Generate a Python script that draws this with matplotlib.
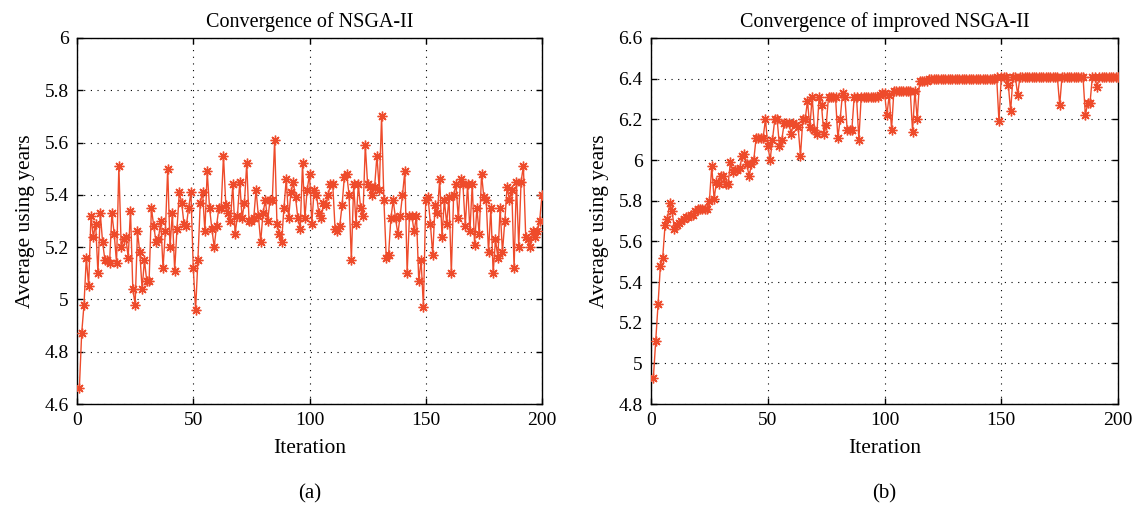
import matplotlib
matplotlib.use("Agg")
import matplotlib.pyplot as plt
import numpy as np

plt.rcParams['font.family'] = ['Liberation Serif', 'DejaVu Serif']

# --- data ----------------------------------------------------------------
iterations = np.arange(1, 201)

nsga2 = [
    4.66, 4.87, 4.98, 5.16, 5.05, 5.32, 5.24, 5.29, 5.10, 5.33,
    5.22, 5.15, 5.15, 5.14, 5.33, 5.25, 5.14, 5.51, 5.20, 5.23,
    5.24, 5.16, 5.34, 5.04, 4.98, 5.26, 5.18, 5.04, 5.15, 5.07,
    5.07, 5.35, 5.28, 5.22, 5.23, 5.30, 5.12, 5.26, 5.50, 5.20,
    5.33, 5.11, 5.27, 5.41, 5.37, 5.29, 5.28, 5.35, 5.41, 5.12,
    4.96, 5.15, 5.37, 5.41, 5.26, 5.49, 5.35, 5.27, 5.20, 5.28,
    5.35, 5.35, 5.55, 5.36, 5.33, 5.30, 5.44, 5.25, 5.32, 5.45,
    5.31, 5.37, 5.52, 5.30, 5.30, 5.31, 5.42, 5.32, 5.22, 5.33,
    5.38, 5.30, 5.38, 5.38, 5.61, 5.29, 5.25, 5.22, 5.35, 5.46,
    5.31, 5.41, 5.45, 5.39, 5.31, 5.27, 5.52, 5.31, 5.42, 5.48,
    5.29, 5.42, 5.40, 5.33, 5.31, 5.37, 5.36, 5.40, 5.44, 5.44,
    5.27, 5.26, 5.28, 5.36, 5.47, 5.48, 5.40, 5.15, 5.44, 5.29,
    5.44, 5.35, 5.32, 5.59, 5.44, 5.43, 5.40, 5.43, 5.55, 5.42,
    5.70, 5.38, 5.16, 5.17, 5.31, 5.38, 5.31, 5.25, 5.32, 5.40,
    5.49, 5.10, 5.32, 5.32, 5.26, 5.32, 5.07, 5.15, 4.97, 5.38,
    5.39, 5.29, 5.17, 5.36, 5.33, 5.46, 5.24, 5.38, 5.29, 5.39,
    5.10, 5.40, 5.44, 5.31, 5.46, 5.44, 5.28, 5.44, 5.26, 5.44,
    5.21, 5.35, 5.25, 5.48, 5.39, 5.38, 5.18, 5.35, 5.10, 5.23,
    5.16, 5.35, 5.18, 5.30, 5.43, 5.38, 5.42, 5.12, 5.45, 5.20,
    5.45, 5.51, 5.24, 5.23, 5.20, 5.26, 5.24, 5.26, 5.30, 5.40,
]

improved = [
    4.93, 5.11, 5.29, 5.48, 5.52, 5.68, 5.71, 5.79, 5.75, 5.66,
    5.68, 5.69, 5.70, 5.71, 5.72, 5.72, 5.73, 5.73, 5.75, 5.76,
    5.76, 5.76, 5.76, 5.76, 5.80, 5.97, 5.81, 5.89, 5.88, 5.92,
    5.92, 5.88, 5.88, 5.99, 5.94, 5.95, 5.95, 5.96, 6.02, 6.03,
    5.98, 5.92, 5.98, 6.00, 6.11, 6.11, 6.11, 6.11, 6.20, 6.07,
    6.00, 6.10, 6.20, 6.20, 6.07, 6.10, 6.18, 6.18, 6.18, 6.13,
    6.18, 6.17, 6.16, 6.02, 6.20, 6.20, 6.29, 6.16, 6.31, 6.15,
    6.13, 6.31, 6.27, 6.13, 6.17, 6.31, 6.31, 6.31, 6.31, 6.11,
    6.20, 6.33, 6.31, 6.15, 6.15, 6.15, 6.31, 6.31, 6.10, 6.31,
    6.31, 6.31, 6.31, 6.31, 6.31, 6.31, 6.31, 6.32, 6.33, 6.33,
    6.22, 6.32, 6.15, 6.34, 6.34, 6.34, 6.34, 6.34, 6.34, 6.34,
    6.34, 6.14, 6.34, 6.20, 6.39, 6.39, 6.39, 6.39, 6.40, 6.40,
    6.40, 6.40, 6.40, 6.40, 6.40, 6.40, 6.40, 6.40, 6.40, 6.40,
    6.40, 6.40, 6.40, 6.40, 6.40, 6.40, 6.40, 6.40, 6.40, 6.40,
    6.40, 6.40, 6.40, 6.40, 6.40, 6.40, 6.40, 6.41, 6.19, 6.41,
    6.41, 6.41, 6.37, 6.24, 6.41, 6.41, 6.32, 6.41, 6.41, 6.41,
    6.41, 6.41, 6.41, 6.41, 6.41, 6.41, 6.41, 6.41, 6.41, 6.41,
    6.41, 6.41, 6.41, 6.41, 6.27, 6.41, 6.41, 6.41, 6.41, 6.41,
    6.41, 6.41, 6.41, 6.41, 6.41, 6.22, 6.28, 6.28, 6.41, 6.41,
    6.36, 6.41, 6.41, 6.41, 6.41, 6.41, 6.41, 6.41, 6.41, 6.41,
]

panels = [
    ('Convergence of NSGA-II', nsga2, (4.6, 6.0), '(a)'),
    ('Convergence of improved NSGA-II', improved, (4.8, 6.6), '(b)'),
]

line_color = '#ee4b2b'

fig = plt.figure(figsize=(11.36, 5.08), dpi=100)
axes = [fig.add_axes([0.0678, 0.2047, 0.4093, 0.7205]),
        fig.add_axes([0.5731, 0.2047, 0.4111, 0.7205])]

for ax, (title, values, ylim, tag) in zip(axes, panels):
    # matlab-like asterisk marker: 8 spokes drawn as lines
    ax.plot(iterations, values, color=line_color, lw=1.0, marker=(8, 2, 0),
            markersize=7, markeredgewidth=1.0, zorder=3)
    ax.set_xlim(0, 200)
    ax.set_ylim(*ylim)
    ax.set_xticks([0, 50, 100, 150, 200])
    ax.set_yticks(np.round(np.arange(ylim[0], ylim[1] + 0.001, 0.2), 1))
    ax.yaxis.set_major_formatter(plt.FuncFormatter(lambda v, p: '%g' % v))
    ax.grid(True, color='black', linestyle=(0, (1, 5)), linewidth=0.8)
    ax.tick_params(direction='in', top=True, right=True, length=4,
                   width=1, labelsize=14, pad=6)
    for s in ax.spines.values():
        s.set_linewidth(1.0)
    ax.set_title(title, fontsize=14.5, pad=8)
    ax.set_xlabel('Iteration', fontsize=15.5, labelpad=7)
    ax.set_ylabel('Average using years', fontsize=15.5, labelpad=7)
    ax.text(0.5, -0.245, tag, transform=ax.transAxes, ha='center',
            va='center', fontsize=15)

fig.savefig('out.png', dpi=100)
